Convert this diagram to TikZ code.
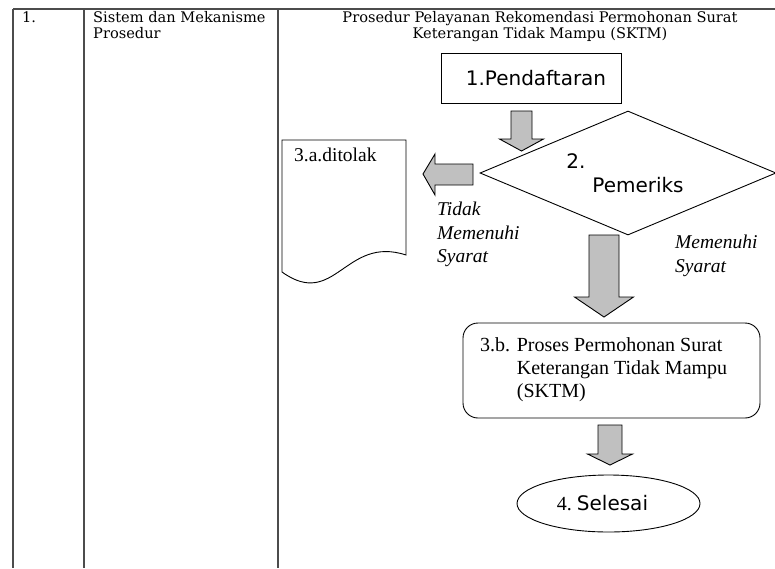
\documentclass[tikz,border=0pt]{standalone}
\usepackage{fontspec}
\setmainfont{Liberation Serif}
\setsansfont{DejaVu Sans}
\newfontfamily\headfont{DejaVu Serif}
\usetikzlibrary{shapes.geometric}
\definecolor{blkgray}{RGB}{192,192,192}
\tikzset{
  tbl/.style={draw=black!70, line width=1.2pt},
  box/.style={draw, line width=0.9pt},
  blk/.style={draw, fill=blkgray, line width=0.9pt, line join=miter},
  hdr/.style={font=\headfont\fontsize{14.6}{16.5}\selectfont, inner sep=0pt},
  lbl/.style={font=\itshape\fontsize{19.5}{23.5}\selectfont, align=left, inner sep=0pt}
}

\begin{document}
\begin{tikzpicture}[x=1pt,y=-1pt]
\useasboundingbox (0,0) rectangle (775,568);
% table frame
\draw[tbl] (13,9) -- (775,9);
\foreach \x in {13,84,278}
    \draw[tbl] (\x,9) -- (\x,568);
\node[hdr, anchor=north west] (no) at (22,11) {1.};
\node[hdr, anchor=north west, align=left] (sistem) at (93,11) {Sistem dan Mekanisme\\Prosedur};
\node[hdr, anchor=north, align=center] (judul) at (540,11)
    {Prosedur Pelayanan Rekomendasi Permohonan Surat\\Keterangan Tidak Mampu (SKTM)};

% flow
\node[box, minimum width=180, minimum height=50, font=\sffamily\fontsize{20}{22}\selectfont,
      text depth=0pt] (daftar) at (531,78) {\hspace{10pt}1.Pendaftaran};
\node[box, diamond, minimum width=296, minimum height=124, inner sep=0pt] (periksa) at (628,173) {};
\node[font=\sffamily\fontsize{20}{22}\selectfont, inner sep=0pt] (periksa2) at (576,161) {2.};
\node[font=\sffamily\fontsize{20}{22}\selectfont, inner sep=0pt] (periksa3) at (638,185) {Pemeriks};

\draw[box] (282,140) -- (406,140) -- (406,255)
    .. controls (345,235) and (335,310) .. (282,272) -- cycle;
\node[anchor=north west, font=\fontsize{19.5}{22}\selectfont, inner sep=0pt] (tolak) at (294,148) {3.a.ditolak};

\node[lbl, anchor=north west] (tidak) at (437,202) {Tidak\\Memenuhi\\Syarat};
\node[lbl, anchor=north west] (memenuhi) at (675,235) {Memenuhi\\Syarat};

\node[box, rounded corners=15pt, minimum width=297, minimum height=95] (proses) at (611.5,370.5) {};
\node[anchor=west, inner sep=0pt, font=\fontsize{20}{23}\selectfont] (prosestxt) at (480,370)
    {\begin{tabular}{@{}l@{ }l@{}}3.b. & Proses Permohonan Surat\\ & Keterangan Tidak Mampu\\ & (SKTM)\end{tabular}};

\node[box, ellipse, minimum width=183, minimum height=57, inner sep=0pt] (selesai) at (608.5,503.5)
    {\hspace*{-12pt}\fontsize{20}{22}\selectfont 4.\ \sffamily Selesai};

% block arrows
\foreach \cx/\sw/\hw/\top/\sh/\tip in {521.5/10.5/22/111/139/151, 604/15/29.5/235/297/317, 610/12/22.5/425/454/465}
    \draw[blk] (\cx-\sw,\top) -- (\cx+\sw,\top) -- (\cx+\sw,\sh) -- (\cx+\hw,\sh)
        -- (\cx,\tip) -- (\cx-\hw,\sh) -- (\cx-\sw,\sh) -- cycle;
\draw[blk] (473,164) -- (473,185) -- (435,185) -- (435,195) -- (423,174) -- (435,154) -- (435,164) -- cycle;
\end{tikzpicture}
\end{document}
